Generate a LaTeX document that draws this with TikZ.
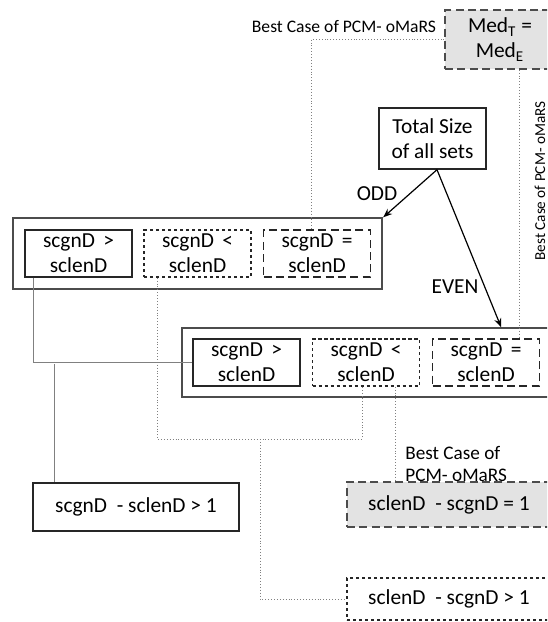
\documentclass[tikz,border=0pt]{standalone}
\usepackage{fontspec}
\setmainfont{Carlito}
\usetikzlibrary{arrows.meta,fit}

\begin{document}
\begin{tikzpicture}[x=0.5pt,y=-0.5pt,
    font=\fontsize{10.7}{12.5}\selectfont,
    gtbox/.style={draw=black!85,solid},
    ltbox/.style={draw=black!85,dash pattern=on 1.6pt off 1.4pt},
    eqbox/.style={draw=black!85,dash pattern=on 4pt off 2.2pt},
    bestbox/.style={draw=black!70,fill=gray!22,dash pattern=on 4pt off 2.2pt},
    setbox/.style={draw=black!70,line width=1pt,solid,minimum width=0pt,minimum height=0pt},
    link/.style={draw=gray,line width=0.45pt,densely dotted},
    tie/.style={draw=gray,line width=0.45pt}]
\useasboundingbox (0,0) rectangle (547,622);
\clip (0,0) rectangle (547,622);

\begin{scope}[every node/.style={line width=0.7pt,align=center,inner sep=0pt,
                                 minimum width=53.5pt,minimum height=23.5pt}]
    \node[gtbox] (total) at (432.5,138.5) [minimum height=30.5pt] {Total Size\\of all sets};
    \node[bestbox] (medTE) at (500,39.5) [minimum width=55pt,minimum height=29.5pt]
        {Med\textsubscript{T} =\\Med\textsubscript{E}};

    % odd row
    \node[gtbox] (oddGt) at (78.5,253.5) {scgnD \,>\\sclenD};
    \node[ltbox] (oddLt) at (197.5,253.5) {scgnD \,<\\sclenD};
    \node[eqbox] (oddEq) at (317,253.5) {scgnD \,=\\sclenD};
    \node[setbox,inner sep=5.5pt,fit=(oddGt)(oddEq)] (oddSet) {};

    % even row
    \node[gtbox] (evenGt) at (246.5,362.5) {scgnD \,>\\sclenD};
    \node[ltbox] (evenLt) at (366,362.5) {scgnD \,<\\sclenD};
    \node[eqbox] (evenEq) at (486,362.5) {scgnD \,=\\sclenD};
    \node[setbox,inner sep=5pt,fit=(evenGt)(evenEq)] (evenSet) {};

    % results
    \node[gtbox] (resGt) at (136,507) [minimum width=103pt,minimum height=24pt] {scgnD \ - sclenD > 1};
    \node[bestbox] (resEq) at (449,504.5) [minimum width=102pt,minimum height=22.5pt] {sclenD \ - scgnD = 1};
    \node[ltbox] (resLt) at (449,599) [minimum width=102pt,minimum height=21pt] {sclenD \ - scgnD > 1};
\end{scope}

\node (bestTop) at (443,27) [anchor=east,font=\fontsize{8.8}{10}\selectfont] {Best Case of PCM- oMaRS};
\node (bestSide) at (540,181) [rotate=90,font=\fontsize{7.6}{9}\selectfont] {Best Case of PCM- oMaRS};
\node (bestLow) at (405,464) [anchor=west,align=left,inner sep=0pt,
    font=\fontsize{9.6}{10.8}\selectfont] {Best Case of\\PCM- oMaRS};
\node (oddTag) at (377,194) {ODD};
\node (evenTag) at (455,287) {EVEN};

\coordinate (gtDrop) at (54,364);
\coordinate (ltJoin) at (362,439);
\coordinate (ltDrop) at (260,439);

\begin{scope}[>={Stealth[black,length=4.5pt,width=3.5pt]}]
    \draw [->,line width=0.6pt] ([xshift=2.25pt]total.south) -- (oddSet.north east);
    \draw [->,line width=0.6pt] ([xshift=2.25pt]total.south) -- ([xshift=-25pt]evenSet.north east);
\end{scope}

\draw [link] (medTE.west) -| ([xshift=-3pt]oddEq.north);
\draw [link] ([xshift=9.5pt]medTE.south) -- ([xshift=9.5pt]medTE.south |- evenEq.north);
\draw [tie] ([xshift=-22.75pt]oddGt.south) |- (evenGt.west);
\draw [tie] (gtDrop) -- (gtDrop |- resGt.north);
\draw [link] ([xshift=-20.25pt]oddLt.south) |- (ltJoin) -- (ltJoin |- evenLt.south);
\draw [link] (ltDrop) |- (resLt.west);
\draw [link] ([xshift=14.5pt]evenLt.south) -- ([xshift=14.5pt]evenLt.south |- resEq.north);
\end{tikzpicture}
\end{document}
